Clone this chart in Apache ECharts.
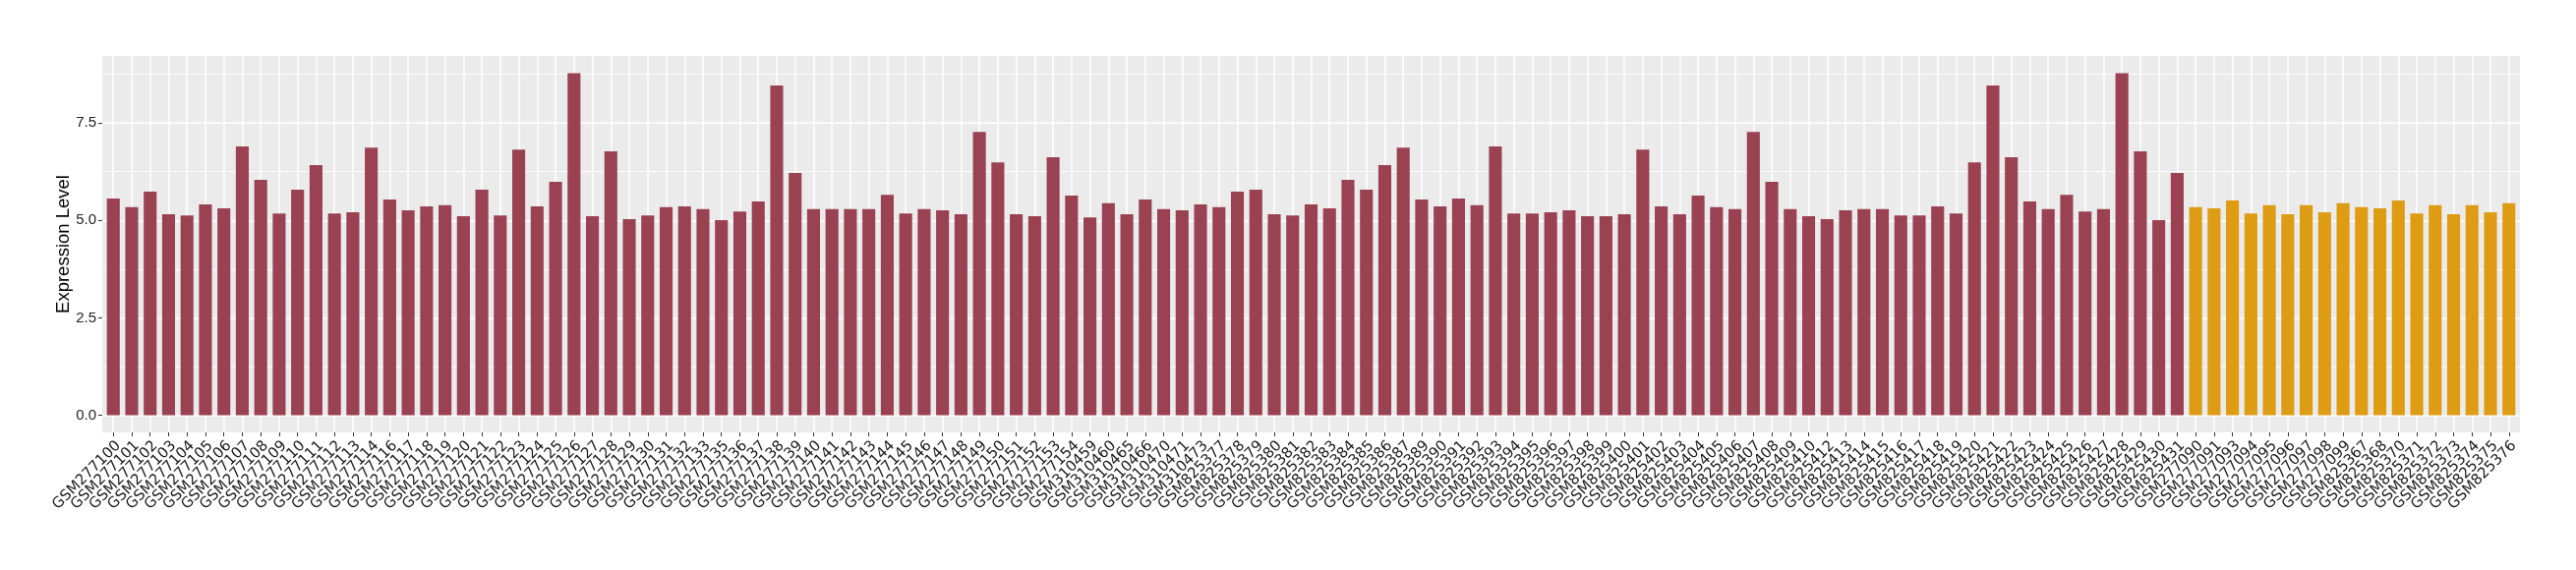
<!DOCTYPE html>
<html><head><meta charset="utf-8">
<script src="https://cdn.jsdelivr.net/npm/echarts@6/dist/echarts.min.js"></script>
<style>html,body{margin:0;padding:0;background:#fff}#c{width:2620px;height:580px}</style>
</head><body><div id="c"></div>
<script>
// ---- data ----
const groupASamples = [
 'GSM277100','GSM277101','GSM277102','GSM277103','GSM277104','GSM277105','GSM277106','GSM277107','GSM277108','GSM277109',
 'GSM277110','GSM277111','GSM277112','GSM277113','GSM277114','GSM277116','GSM277117','GSM277118','GSM277119','GSM277120',
 'GSM277121','GSM277122','GSM277123','GSM277124','GSM277125','GSM277126','GSM277127','GSM277128','GSM277129','GSM277130',
 'GSM277131','GSM277132','GSM277133','GSM277135','GSM277136','GSM277137','GSM277138','GSM277139','GSM277140','GSM277141',
 'GSM277142','GSM277143','GSM277144','GSM277145','GSM277146','GSM277147','GSM277148','GSM277149','GSM277150','GSM277151',
 'GSM277152','GSM277153','GSM277154','GSM310459','GSM310460','GSM310465','GSM310466','GSM310470','GSM310471','GSM310473',
 'GSM825377','GSM825378','GSM825379','GSM825380','GSM825381','GSM825382','GSM825383','GSM825384','GSM825385','GSM825386',
 'GSM825387','GSM825389','GSM825390','GSM825391','GSM825392','GSM825393','GSM825394','GSM825395','GSM825396','GSM825397',
 'GSM825398','GSM825399','GSM825400','GSM825401','GSM825402','GSM825403','GSM825404','GSM825405','GSM825406','GSM825407',
 'GSM825408','GSM825409','GSM825410','GSM825412','GSM825413','GSM825414','GSM825415','GSM825416','GSM825417','GSM825418',
 'GSM825419','GSM825420','GSM825421','GSM825422','GSM825423','GSM825424','GSM825425','GSM825426','GSM825427','GSM825428',
 'GSM825429','GSM825430','GSM825431'
];
const groupAValues = [
 5.56,5.34,5.74,5.16,5.13,5.41,5.31,6.90,6.04,5.18,
 5.79,6.42,5.18,5.21,6.87,5.54,5.26,5.36,5.39,5.11,
 5.79,5.13,6.82,5.36,5.99,8.78,5.11,6.77,5.03,5.13,
 5.34,5.36,5.29,5.01,5.23,5.49,8.46,6.22,5.29,5.29,
 5.29,5.29,5.66,5.18,5.29,5.26,5.16,7.27,6.49,5.16,
 5.11,6.62,5.64,5.08,5.44,5.16,5.54,5.29,5.26,5.41,
 5.34,5.74,5.79,5.16,5.13,5.41,5.31,6.04,5.79,6.42,
 6.87,5.54,5.36,5.56,5.39,6.90,5.18,5.18,5.21,5.26,
 5.11,5.11,5.16,6.82,5.36,5.16,5.64,5.34,5.29,7.27,
 5.99,5.29,5.11,5.03,5.26,5.29,5.29,5.13,5.13,5.36,
 5.18,6.49,8.46,6.62,5.49,5.29,5.66,5.23,5.29,8.78,
 6.77,5.01,6.22
];
const groupBSamples = [
 'GSM277090','GSM277091','GSM277093','GSM277094','GSM277095','GSM277096','GSM277097','GSM277098','GSM277099',
 'GSM825367','GSM825368','GSM825370','GSM825371','GSM825372','GSM825373','GSM825374','GSM825375','GSM825376'
];
const groupBValues = [
 5.34,5.31,5.51,5.18,5.39,5.16,5.39,5.21,5.44,
 5.34,5.31,5.51,5.18,5.39,5.16,5.39,5.21,5.44
];
const yMajorTicks = [0, 2.5, 5, 7.5];
const yMinorTicks = [1.25, 3.75, 6.25, 8.75];
const yAxisTitle = 'Expression Level';

// ---- styles ----
const colorA = '#9A4152';
const colorB = '#DE9B14';

const categories = groupASamples.concat(groupBSamples);
const barData = groupAValues.map(v => ({value: v, itemStyle: {color: colorA}}))
  .concat(groupBValues.map(v => ({value: v, itemStyle: {color: colorB}})));
const allValues = groupAValues.concat(groupBValues);
const vmax = Math.max.apply(null, allValues);
const yMin = -0.05 * vmax, yMax = vmax * 1.05;

const panelLeft = 104, panelRight = 57, panelTop = 57, panelBottom = 140;
const panelWidth = 2620 - panelLeft - panelRight;
const step = panelWidth / (categories.length + 0.2);
const inset = 0.1 * step;

const chart = echarts.init(document.getElementById('c'), null, {renderer: 'canvas'});
chart.setOption({
  animation: false,
  backgroundColor: '#ffffff',
  grid: [
    {left: panelLeft, right: panelRight, top: panelTop, bottom: panelBottom, show: true, backgroundColor: '#EBEBEB', borderWidth: 0},
    {left: panelLeft + inset, right: panelRight + inset, top: panelTop, bottom: panelBottom}
  ],
  xAxis: [
    {gridIndex: 0, type: 'value', show: false, min: 0, max: 1},
    {gridIndex: 1, type: 'category', data: categories, boundaryGap: true,
     axisLine: {show: false, onZero: false},
     axisTick: {show: true, alignWithLabel: true, length: 4, lineStyle: {color: '#333333', width: 1}},
     axisLabel: {rotate: 45, interval: 0, fontSize: 15, fontFamily: 'DejaVu Sans', color: '#1a1a1a', margin: 6,
                 align: 'right', verticalAlign: 'top'},
     splitLine: {show: true, alignWithLabel: true, lineStyle: {color: '#ffffff', width: 1.5}}}
  ],
  yAxis: [
    {gridIndex: 0, type: 'value', min: yMin, max: yMax, position: 'left',
     axisLine: {show: false},
     axisTick: {show: true, length: 4, customValues: yMajorTicks, lineStyle: {color: '#333333', width: 1}},
     axisLabel: {customValues: yMajorTicks, formatter: v => v.toFixed(1), fontSize: 15, fontFamily: 'Liberation Sans', color: '#222222', margin: 6},
     splitLine: {show: true, lineStyle: {color: '#ffffff', width: 1.5}},
     name: yAxisTitle, nameLocation: 'middle', nameGap: 30, nameMoveOverlap: false,
     nameTextStyle: {fontSize: 18.5, fontFamily: 'Liberation Sans', color: '#000000'}},
    {gridIndex: 0, type: 'value', min: yMin, max: yMax, position: 'right',
     axisLine: {show: false},
     axisTick: {show: false, customValues: yMinorTicks},
     axisLabel: {show: false},
     splitLine: {show: true, lineStyle: {color: '#ffffff', width: 0.8}}},
    {gridIndex: 1, type: 'value', min: yMin, max: yMax, show: false}
  ],
  series: [{
    type: 'bar', xAxisIndex: 1, yAxisIndex: 2, data: barData, barCategoryGap: '30%'
  }]
});
</script>
</body></html>
